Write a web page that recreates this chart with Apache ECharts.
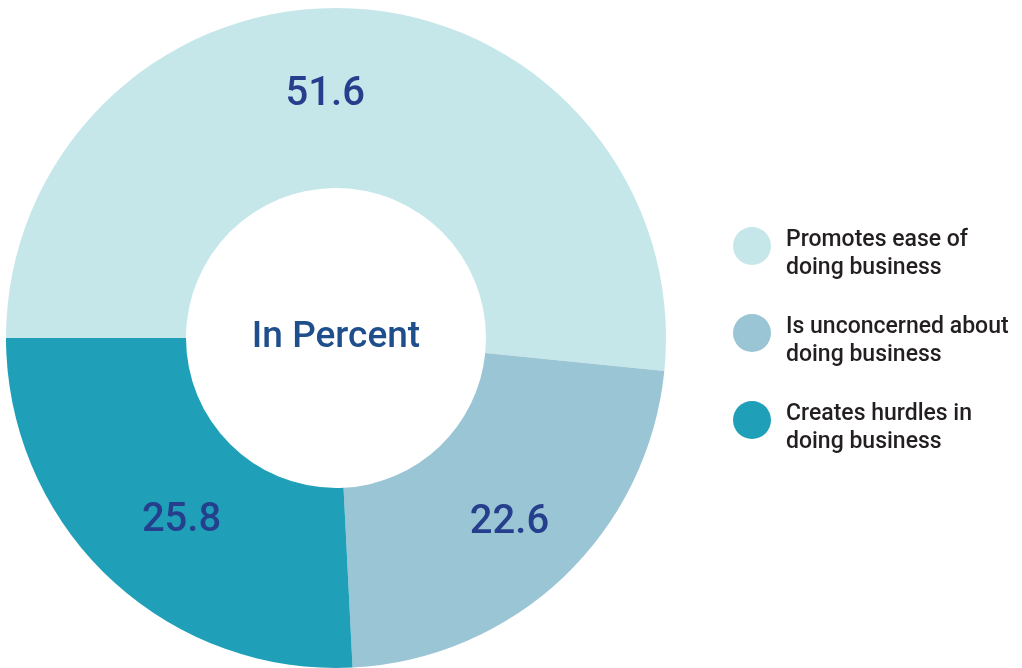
<!DOCTYPE html>
<html>
<head>
<meta charset="utf-8">
<script src="https://cdn.jsdelivr.net/npm/echarts@6/dist/echarts.min.js"></script>
<style>
html,body{margin:0;padding:0;background:#fff;}
#chart{width:1022px;height:668px;}
</style>
</head>
<body>
<div id="chart"></div>
<script>
const categories = ['Promotes ease of\ndoing business', 'Is unconcerned about\ndoing business', 'Creates hurdles in\ndoing business'];
const values = [51.6, 22.6, 25.8];
const colors = ['#c5e7e9', '#9ac5d5', '#1fa0b8'];
const labelOffsets = [[-23, 0], [6, 9], [13, 7]];

const chart = echarts.init(document.getElementById('chart'), null, {renderer: 'canvas'});
chart.setOption({
  animation: false,
  backgroundColor: '#ffffff',
  legend: {
    orient: 'vertical',
    left: 728,
    top: 205,
    icon: 'circle',
    itemWidth: 38,
    itemHeight: 38,
    itemGap: 15,
    selectedMode: false,
    formatter: name => '{s| }\n' + name,
    textStyle: {
      fontFamily: 'Roboto',
      fontWeight: 500,
      fontSize: 23,
      lineHeight: 28,
      color: '#231f20',
      padding: [0, 0, 0, 10],
      rich: {
        s: {fontSize: 8, lineHeight: 16}
      }
    },
    data: categories
  },
  series: [{
    type: 'pie',
    center: [336, 338],
    radius: [150, 330],
    startAngle: 180,
    clockwise: true,
    silent: true,
    emphasis: {disabled: true},
    itemStyle: {borderWidth: 0},
    label: {
      show: true,
      position: 'inside',
      fontFamily: 'Roboto',
      fontWeight: 500,
      fontSize: 40,
      color: '#253f8c',
      formatter: p => p.value.toFixed(1)
    },
    labelLine: {show: false},
    data: categories.map((c, i) => ({
      name: c,
      value: values[i],
      itemStyle: {color: colors[i]},
      label: {offset: labelOffsets[i]}
    }))
  }, {
    type: 'pie',
    center: [336, 338],
    radius: [0, 1],
    silent: true,
    legendHoverLink: false,
    itemStyle: {color: 'rgba(0,0,0,0)'},
    label: {
      show: true,
      position: 'center',
      formatter: 'In Percent',
      fontFamily: 'Roboto',
      fontWeight: 500,
      fontSize: 37,
      color: '#1f4e8c'
    },
    data: [{name: '__center', value: 1}]
  }]
});
</script>
</body>
</html>
